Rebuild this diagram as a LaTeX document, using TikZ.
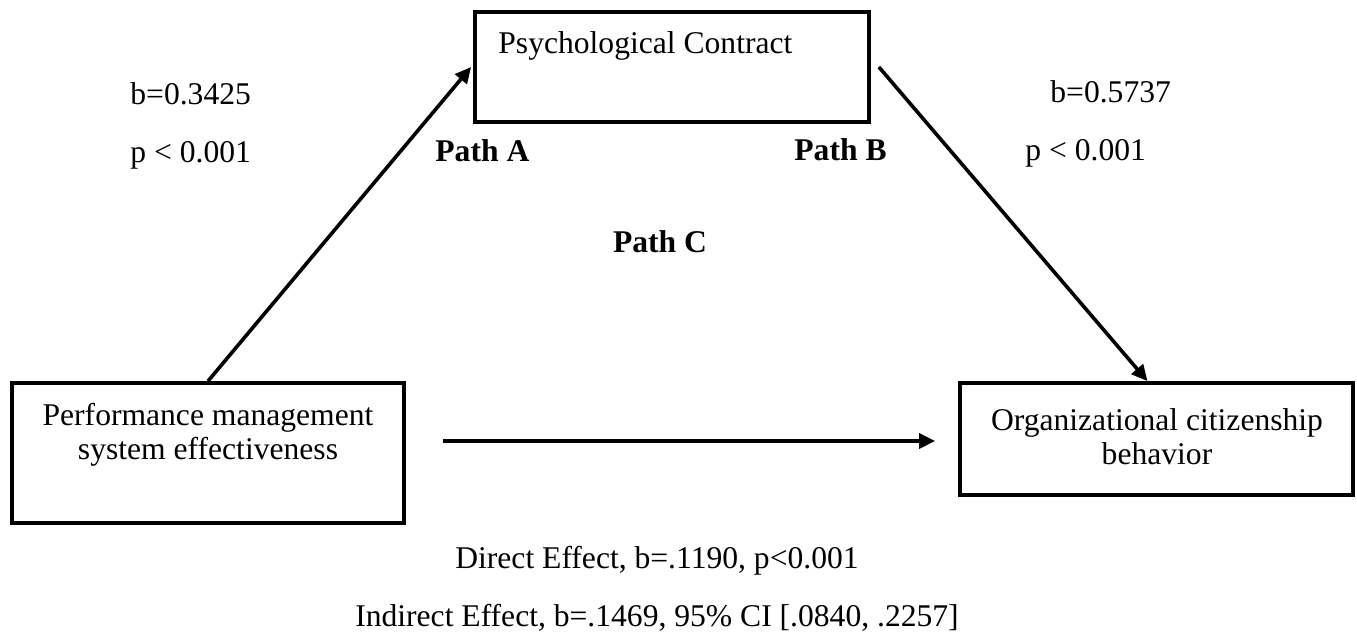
\documentclass[tikz,border=0pt]{standalone}
\usepackage{fontspec}
\setmainfont{Liberation Serif}
\usetikzlibrary{arrows.meta,calc}
\begin{document}
\begin{tikzpicture}[x=0.5pt,y=-0.5pt,
  box/.style={draw,line width=1.9pt,minimum width=#1,inner sep=0pt},
  txt/.style={inner sep=0pt,font=\fontsize{15.8}{19}\selectfont},
  btxt/.style={txt,font=\fontsize{15.8}{19}\selectfont\bfseries},
  arr/.style={line width=1.8pt,-{Triangle[length=8pt,width=7.5pt]}}]
\useasboundingbox (0,0) rectangle (1357,632);
% boxes
\node[box=197pt,minimum height=55pt] (pc) at (672,67) {};
\node[box=196pt,minimum height=70pt] (pm) at (208,453) {};
\node[box=196.5pt,minimum height=56pt] (oc) at (1156.5,439) {};
% box texts
\node[txt,anchor=base west] (pct) at (498,53) {Psychological Contract};
\node[txt,anchor=base] (pmt1) at (208,425) {Performance management};
\node[txt,anchor=base] (pmt2) at (208,459) {system effectiveness};
\node[txt,anchor=base] (oct1) at (1157,430) {Organizational citizenship};
\node[txt,anchor=base] (oct2) at (1157,464) {behavior};
% labels
\node[txt,anchor=base west] (ba) at (130,104) {b=0.3425};
\node[txt,anchor=base west] (pa) at (130,162) {p < 0.001};
\node[btxt,anchor=base west] (patha) at (435,161) {Path A};
\node[btxt,anchor=base west] (pathb) at (794,160) {Path B};
\node[txt,anchor=base west] (bb) at (1050,102) {b=0.5737};
\node[txt,anchor=base west] (pb) at (1025,160) {p < 0.001};
\node[btxt,anchor=base] (pathc) at (660,252) {Path C};
\node[txt,anchor=base] (dir) at (657,568) {Direct Effect, b=.1190, p<0.001};
\node[txt,anchor=base] (ind) at (657,626) {Indirect Effect, b=.1469, 95\% CI [.0840, .2257]};
% arrows
\draw[arr] (pm.north) -- ($(pc.west)+(-2,0)$);
\draw[arr] ($(pc.east)+(8,0)$) -- ($(oc.north)+(-9,0)$);
\draw[arr] ($(pm.east)+(37,-12)$) -- ($(oc.west)+(-23,2)$);
\end{tikzpicture}
\end{document}
